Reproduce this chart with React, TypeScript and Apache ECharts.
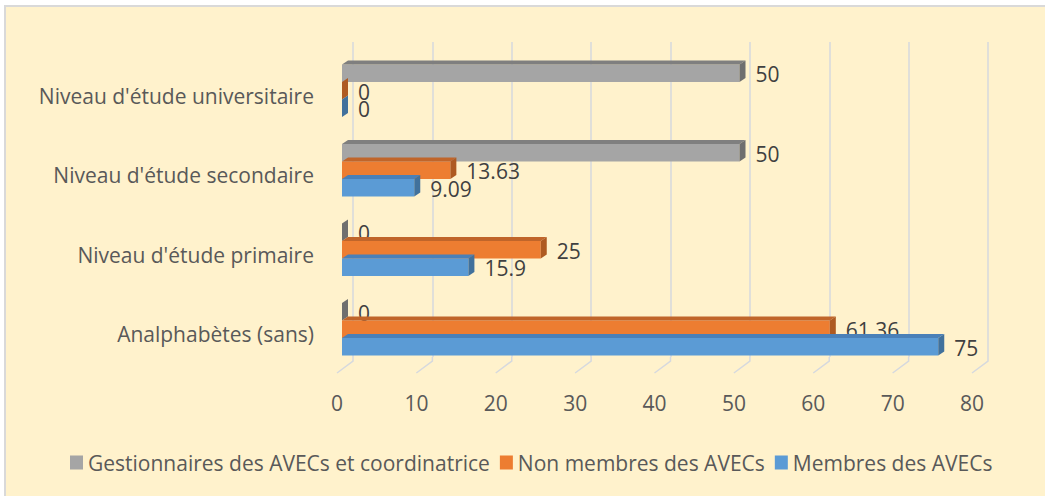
import React, { useEffect, useRef } from 'react';
import * as echarts from 'echarts';

const categories = [
  'Analphabètes (sans)',
  "Niveau d'étude primaire",
  "Niveau d'étude secondaire",
  "Niveau d'étude universitaire",
];
const membres = [75, 15.9, 9.09, 0];
const nonMembres = [61.36, 25, 13.63, 0];
const gestionnaires = [0, 0, 50, 50];
const valueTicks = [0, 10, 20, 30, 40, 50, 60, 70, 80];
const seriesNames = [
  'Membres des AVECs',
  'Non membres des AVECs',
  'Gestionnaires des AVECs et coordinatrice',
];

const FONT = '"Open Sans"';
const FS = 21;
const LABEL_SHIFT = 5;

const palettes = [
  { front: '#5B9BD5', dark: '#41719C', top: '#4A80B8' },
  { front: '#ED7D31', dark: '#AE5A21', top: '#C0652A' },
  { front: '#A5A5A5', dark: '#6F6F6F', top: '#7F7F7F' },
];

function makeBarRender(k: number) {
  const pal = palettes[k];
  return (params: any, api: any) => {
    const v = api.value(0);
    const idx = api.value(1);
    const c = api.coord([v, idx]);
    const c0 = api.coord([0, idx]);
    const band = api.size([0, 1])[1];
    const pitch = band * 0.22;
    const h = pitch;
    const cy = c[1] - LABEL_SHIFT + (1 - k) * pitch;
    const y0 = cy - h / 2;
    const y1 = cy + h / 2;
    const x0 = c0[0];
    const x1 = c[0];
    const dx = 6;
    const dy = 4;
    const children: any[] = [];
    if (x1 > x0) {
      children.push({
        type: 'rect',
        shape: { x: x0, y: y0, width: x1 - x0, height: y1 - y0 },
        style: { fill: pal.front },
      });
      children.push({
        type: 'polygon',
        shape: { points: [[x0, y0], [x1, y0], [x1 + dx, y0 - dy], [x0 + dx, y0 - dy]] },
        style: { fill: pal.top },
      });
    }
    children.push({
      type: 'polygon',
      shape: { points: [[x1, y0], [x1 + dx, y0 - dy], [x1 + dx, y1 - dy], [x1, y1]] },
      style: { fill: pal.dark },
    });
    children.push({
      type: 'text',
      x: x1 + 16,
      y: cy + 1,
      style: {
        text: String(v),
        fill: '#404040',
        font: `${FS}px ${FONT}`,
        lineHeight: 16,
        verticalAlign: 'middle',
        align: 'left',
      },
    });
    return { type: 'group', children };
  };
}

export default function App() {
  const ref = useRef<HTMLDivElement>(null);
  useEffect(() => {
    if (!ref.current) return;
    const chart = echarts.init(ref.current, undefined, { renderer: 'svg' });
    const seriesData = [membres, nonMembres, gestionnaires];
    const barSeries = seriesData.map((arr, k) => ({
      type: 'custom',
      name: seriesNames[k],
      xAxisIndex: 2,
      yAxisIndex: 2,
      z: 10 - k,
      itemStyle: { color: palettes[k].front },
      encode: { x: 0, y: 1 },
      data: arr.map((v, i) => [v, i]),
      renderItem: makeBarRender(k),
    }));
    chart.setOption({
      animation: false,
      textStyle: { fontFamily: FONT },
      grid: [
        { left: 353, width: 635, top: 42, height: 315 },
        { left: 337, width: 635, top: 357, height: 16 },
        { left: 342, width: 636, top: 51 + LABEL_SHIFT, height: 318 },
      ],
      xAxis: [
        {
          gridIndex: 0, type: 'value', min: 0, max: 80, interval: 10,
          axisLine: { show: false }, axisTick: { show: false }, axisLabel: { show: false },
          splitLine: { show: true, lineStyle: { color: '#D6D9DE', width: 1.5 } },
        },
        {
          gridIndex: 1, type: 'value', min: 0, max: 80, interval: 10,
          axisLine: { show: false }, axisTick: { show: false },
          axisLabel: { show: true, color: '#595959', fontSize: FS, fontFamily: FONT, margin: 19 },
          splitLine: { show: false },
        },
        {
          gridIndex: 2, type: 'value', min: 0, max: 80, interval: 10,
          axisLine: { show: false }, axisTick: { show: false }, axisLabel: { show: false },
          splitLine: { show: false },
        },
      ],
      yAxis: [
        { gridIndex: 0, type: 'value', show: false, min: 0, max: 1 },
        { gridIndex: 1, type: 'value', show: false, min: 0, max: 1 },
        {
          gridIndex: 2, type: 'category', data: categories,
          axisLine: { show: false }, axisTick: { show: false },
          axisLabel: { color: '#595959', fontSize: FS, fontFamily: FONT, margin: 28 },
          splitLine: { show: false },
        },
      ],
      legend: {
        left: 65,
        top: 447,
        icon: 'rect',
        itemWidth: 13,
        itemHeight: 14,
        itemGap: 10,
        data: [seriesNames[2], seriesNames[1], seriesNames[0]],
        textStyle: { color: '#595959', fontSize: FS, fontFamily: FONT },
      },
      series: [
        {
          type: 'custom',
          xAxisIndex: 1,
          yAxisIndex: 1,
          silent: true,
          z: 1,
          encode: { x: 0 },
          data: valueTicks.map((v) => [v]),
          renderItem: (params: any, api: any) => {
            const p = api.coord([api.value(0), 0]);
            return {
              type: 'polyline',
              shape: { points: [[p[0], p[1]], [p[0] + 16, p[1] - 12], [p[0] + 16, p[1] - 16]] },
              style: { stroke: '#D6D9DE', lineWidth: 1.5, fill: 'none' },
            };
          },
        },
        ...barSeries,
      ],
    });
    return () => chart.dispose();
  }, []);
  return (
    <div style={{ position: 'absolute', left: 0, top: 0, width: 1045, height: 496, background: '#fff', overflow: 'hidden' }}>
      <div
        style={{
          position: 'absolute', left: 4, top: 5, width: 1060, height: 510,
          background: '#FFF2CC', border: '2px solid #D9D9D9', boxSizing: 'border-box',
        }}
      />
      <div ref={ref} style={{ position: 'absolute', left: 0, top: 0, width: 1045, height: 496 }} />
    </div>
  );
}
